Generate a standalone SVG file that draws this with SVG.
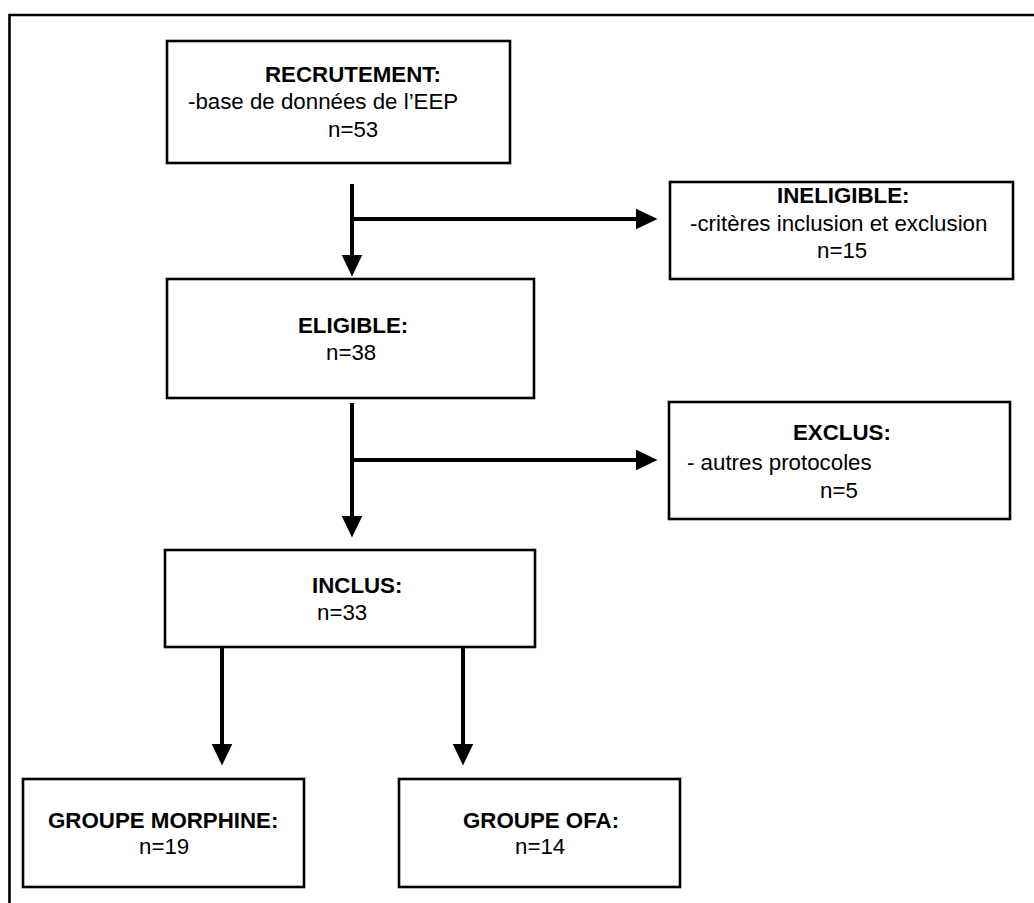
<svg xmlns="http://www.w3.org/2000/svg" width="1034" height="903" viewBox="0 0 1034 903">
  <defs>
    <style>
      .box { fill: #ffffff; stroke: #000000; stroke-width: 2.6; }
      .frame { fill: none; stroke: #000000; stroke-width: 2.6; }
      .conn { fill: none; stroke: #000000; stroke-width: 4; }
      text { font-family: "Liberation Sans", Arial, Helvetica, sans-serif; font-size: 22.3px; fill: #000000; }
      .b { font-weight: bold; }
    </style>
    <marker id="arrow" markerUnits="userSpaceOnUse" markerWidth="22" markerHeight="22" viewBox="0 0 22 22" refX="0.5" refY="11" orient="auto">
      <path d="M0,0.5 L22,11 L0,21.5 Z" fill="#000000"/>
    </marker>
  </defs>
  <rect x="0" y="0" width="1034" height="903" fill="#ffffff"/>
  <path class="frame" d="M9.5,903 V15 H1034"/>

  <g id="connectors">
    <line class="conn" x1="352" y1="184" x2="352" y2="255" marker-end="url(#arrow)"/>
    <line class="conn" x1="350" y1="219" x2="636" y2="219" marker-end="url(#arrow)"/>
    <line class="conn" x1="352" y1="403" x2="352" y2="516" marker-end="url(#arrow)"/>
    <line class="conn" x1="350" y1="460" x2="636" y2="460" marker-end="url(#arrow)"/>
    <line class="conn" x1="222" y1="647" x2="222" y2="744" marker-end="url(#arrow)"/>
    <line class="conn" x1="463" y1="647" x2="463" y2="744" marker-end="url(#arrow)"/>
  </g>

  <g id="recrutement">
    <rect class="box" x="167" y="41" width="343" height="122"/>
    <text class="b" x="265" y="82">RECRUTEMENT:</text>
    <text x="188" y="109">-base de données de l’EEP</text>
    <text x="328" y="137">n=53</text>
  </g>

  <g id="ineligible">
    <rect class="box" x="670" y="182" width="343" height="97"/>
    <text class="b" x="777" y="203">INELIGIBLE:</text>
    <text x="690" y="231">-critères inclusion et exclusion</text>
    <text x="817" y="258">n=15</text>
  </g>

  <g id="eligible">
    <rect class="box" x="167" y="279" width="367" height="119"/>
    <text class="b" x="298" y="333">ELIGIBLE:</text>
    <text x="326" y="360">n=38</text>
  </g>

  <g id="exclus">
    <rect class="box" x="669" y="402" width="341" height="117"/>
    <text class="b" x="793" y="440">EXCLUS:</text>
    <text x="687" y="470">- autres protocoles</text>
    <text x="820" y="498">n=5</text>
  </g>

  <g id="inclus">
    <rect class="box" x="165" y="550" width="370" height="97"/>
    <text class="b" x="312" y="593">INCLUS:</text>
    <text x="317" y="620">n=33</text>
  </g>

  <g id="groupe-morphine">
    <rect class="box" x="23" y="779" width="281" height="108"/>
    <text class="b" x="48" y="828">GROUPE MORPHINE:</text>
    <text x="139" y="854">n=19</text>
  </g>

  <g id="groupe-ofa">
    <rect class="box" x="399" y="779" width="281" height="108"/>
    <text class="b" x="463" y="828">GROUPE OFA:</text>
    <text x="515" y="854">n=14</text>
  </g>
</svg>
